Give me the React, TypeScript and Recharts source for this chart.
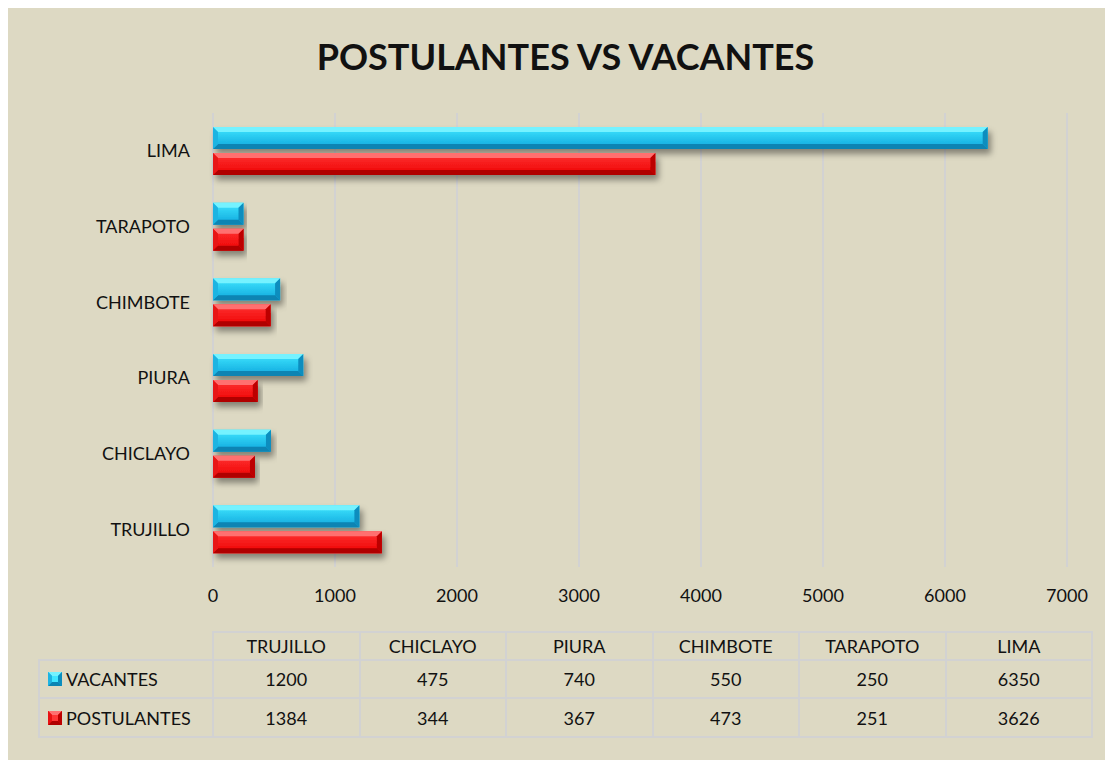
import React from "react";
import { BarChart, Bar, XAxis, YAxis, CartesianGrid } from "recharts";

const CITIES = ["TRUJILLO", "CHICLAYO", "PIURA", "CHIMBOTE", "TARAPOTO", "LIMA"];
const VACANTES = [1200, 475, 740, 550, 250, 6350];
const POSTULANTES = [1384, 344, 367, 473, 251, 3626];
const X_TICKS = [0, 1000, 2000, 3000, 4000, 5000, 6000, 7000];

const data = CITIES.map((city, i) => ({
  city,
  VACANTES: VACANTES[i],
  POSTULANTES: POSTULANTES[i],
}));

const FONT = "Lato, 'Open Sans', sans-serif";
const BG = "#DDD9C3";
const GRID = "#D2D2D2";

type Palette = {
  id: string;
  top: string;
  bottom: string;
  bevelTop: string;
  bevelBottom: string;
  bevelLeft: string;
  bevelRight: string;
};

const BLUE: Palette = {
  id: "blue",
  top: "#3FE6FF",
  bottom: "#0FA6DC",
  bevelTop: "#74F2FF",
  bevelBottom: "#0A84B3",
  bevelLeft: "#1EB4E2",
  bevelRight: "#0B8DBE",
};

const RED: Palette = {
  id: "red",
  top: "#FF3535",
  bottom: "#EE0000",
  bevelTop: "#FF7070",
  bevelBottom: "#B00000",
  bevelLeft: "#E81212",
  bevelRight: "#BC0000",
};

function bevelShape(p: Palette) {
  return (props: any) => {
    const { x, y, width, height } = props;
    if (!width || width <= 0) return <g />;
    const w = width;
    const h = height;
    const b = Math.min(5, w / 2, h / 2);
    return (
      <g filter="url(#barShadow)">
        <rect x={x} y={y} width={w} height={h} fill={`url(#grad-${p.id})`} />
        <polygon
          points={`${x},${y} ${x + w},${y} ${x + w - b},${y + b} ${x + b},${y + b}`}
          fill={p.bevelTop}
        />
        <polygon
          points={`${x},${y + h} ${x + w},${y + h} ${x + w - b},${y + h - b} ${x + b},${y + h - b}`}
          fill={p.bevelBottom}
        />
        <polygon
          points={`${x},${y} ${x + b},${y + b} ${x + b},${y + h - b} ${x},${y + h}`}
          fill={p.bevelLeft}
        />
        <polygon
          points={`${x + w},${y} ${x + w - b},${y + b} ${x + w - b},${y + h - b} ${x + w},${y + h}`}
          fill={p.bevelRight}
        />
      </g>
    );
  };
}

function Marker({ p }: { p: Palette }) {
  return (
    <svg width={14} height={14} style={{ marginRight: 4, flex: "none" }}>
      <rect x={0} y={0} width={14} height={14} fill={p.bottom} />
      <polygon points="0,0 14,0 10,4 4,4" fill={p.bevelTop} />
      <polygon points="0,14 14,14 10,10 4,10" fill={p.bevelBottom} />
      <polygon points="0,0 4,4 4,10 0,14" fill={p.bevelLeft} />
      <polygon points="14,0 10,4 10,10 14,14" fill={p.bevelRight} />
      <rect x={4} y={4} width={6} height={6} fill={p.top} />
    </svg>
  );
}

// data table geometry (container coordinates)
const COL_W = 146.5;
const TABLE_LEFT = 205;
const LABEL_LEFT = 30;
const ROW_TOPS = [623, 651, 689, 728];

function Cell({
  left,
  top,
  width,
  height,
  children,
  align = "center",
}: {
  left: number;
  top: number;
  width: number;
  height: number;
  children?: React.ReactNode;
  align?: "center" | "left";
}) {
  return (
    <div
      style={{
        position: "absolute",
        left,
        top,
        width,
        height,
        boxSizing: "border-box",
        border: `2px solid ${GRID}`,
        display: "flex",
        alignItems: "center",
        justifyContent: align === "center" ? "center" : "flex-start",
        paddingLeft: align === "left" ? 8 : 0,
        fontSize: 18,
      }}
    >
      {children}
    </div>
  );
}

function DataTable() {
  const rows = [
    { name: "VACANTES", values: VACANTES, p: BLUE },
    { name: "POSTULANTES", values: POSTULANTES, p: RED },
  ];
  const cells: React.ReactNode[] = [];
  CITIES.forEach((c, i) => {
    cells.push(
      <Cell
        key={`h${i}`}
        left={TABLE_LEFT + i * COL_W - 1}
        top={ROW_TOPS[0]}
        width={COL_W + 2}
        height={ROW_TOPS[1] - ROW_TOPS[0] + 2}
      >
        {c}
      </Cell>
    );
  });
  rows.forEach((r, ri) => {
    const top = ROW_TOPS[ri + 1];
    const h = ROW_TOPS[ri + 2] - top + 2;
    cells.push(
      <Cell key={`l${ri}`} left={LABEL_LEFT} top={top} width={TABLE_LEFT - LABEL_LEFT + 1} height={h} align="left">
        <Marker p={r.p} />
        {r.name}
      </Cell>
    );
    r.values.forEach((v, i) => {
      cells.push(
        <Cell key={`v${ri}-${i}`} left={TABLE_LEFT + i * COL_W - 1} top={top} width={COL_W + 2} height={h}>
          {v}
        </Cell>
      );
    });
  });
  return <>{cells}</>;
}

export default function App() {
  return (
    <div
      style={{
        position: "relative",
        width: 1105,
        height: 752,
        background: BG,
        fontFamily: FONT,
        color: "#111",
      }}
    >
      <div
        style={{
          position: "absolute",
          top: 26,
          left: 0,
          width: 1115,
          textAlign: "center",
          fontSize: 36,
          fontWeight: 700,
        }}
      >
        POSTULANTES VS VACANTES
      </div>
      <BarChart
        width={1105}
        height={752}
        data={data}
        layout="vertical"
        margin={{ top: 105, right: 46, left: 0, bottom: 153 }}
        barSize={22}
        barGap={4}
      >
        <defs>
          {[BLUE, RED].map((p) => (
            <linearGradient key={p.id} id={`grad-${p.id}`} x1="0" y1="0" x2="0" y2="1">
              <stop offset="0%" stopColor={p.top} />
              <stop offset="100%" stopColor={p.bottom} />
            </linearGradient>
          ))}
          <filter id="barShadow" x="-5%" y="-30%" width="115%" height="190%">
            <feDropShadow dx="3" dy="5" stdDeviation="3" floodColor="#000" floodOpacity="0.4" />
          </filter>
        </defs>
        <CartesianGrid horizontal={false} stroke={GRID} strokeWidth={2} />
        <XAxis
          type="number"
          domain={[0, 7000]}
          ticks={X_TICKS}
          axisLine={false}
          tickLine={false}
          tickSize={0}
          tickMargin={22}
          height={40}
          tick={{ fontSize: 18, fill: "#111", fontFamily: FONT }}
        />
        <YAxis
          type="category"
          dataKey="city"
          reversed
          width={205}
          axisLine={false}
          tickLine={false}
          tickSize={0}
          tickMargin={23}
          tick={{ fontSize: 18, fill: "#111", fontFamily: FONT }}
        />
        <Bar dataKey="VACANTES" isAnimationActive={false} shape={bevelShape(BLUE)} />
        <Bar dataKey="POSTULANTES" isAnimationActive={false} shape={bevelShape(RED)} />
      </BarChart>
      <DataTable />
    </div>
  );
}
